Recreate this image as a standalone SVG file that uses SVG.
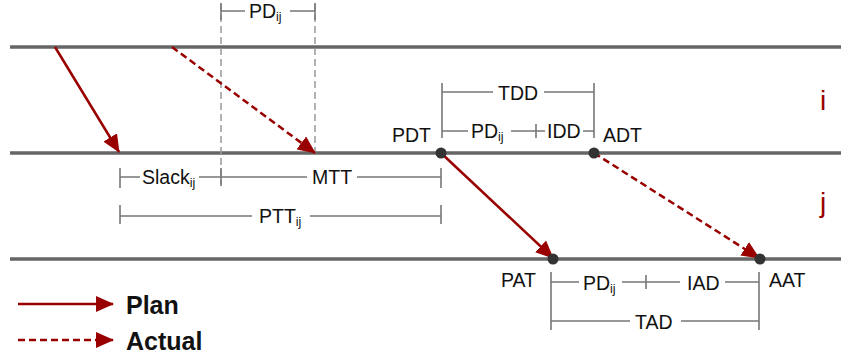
<svg xmlns="http://www.w3.org/2000/svg" width="841" height="360" viewBox="0 0 841 360">
  <style>
    .track { stroke: #666; stroke-width: 3.4; fill: none; }
    .guide { stroke: #999; stroke-width: 1.5; stroke-dasharray: 7 4; fill: none; }
    .dim { stroke: #777; stroke-width: 1.6; fill: none; }
    .plan { stroke: #990000; stroke-width: 2.5; fill: none; }
    .actual { stroke: #990000; stroke-width: 2.5; stroke-dasharray: 7 4; fill: none; }
    .lbl { font-family: "Liberation Sans", Arial, sans-serif; font-size: 19.5px; fill: #111; }
    .sub { font-size: 12.5px; }
    .stn { font-family: "Liberation Sans", Arial, sans-serif; font-size: 28px; fill: #990000; }
    .leg { font-family: "Liberation Sans", Arial, sans-serif; font-size: 25px; font-weight: bold; fill: #111; }
    .dot { fill: #333; }
  </style>
  <defs>
    <marker id="head" markerUnits="userSpaceOnUse" viewBox="0 0 18 16" refX="17" refY="8" markerWidth="18" markerHeight="16" orient="auto">
      <path d="M0,0 L18,8 L0,16 z" fill="#990000"/>
    </marker>
  </defs>

  <!-- station tracks -->
  <g id="tracks">
    <line class="track" x1="10" y1="47" x2="841" y2="47"/>
    <line class="track" x1="10" y1="153" x2="841" y2="153"/>
    <line class="track" x1="10" y1="259" x2="841" y2="259"/>
  </g>

  <!-- station labels -->
  <g id="station-i"><text class="stn" x="820" y="110">i</text></g>
  <g id="station-j"><text class="stn" x="820" y="212">j</text></g>

  <!-- vertical guides -->
  <g id="guides">
    <line class="guide" x1="221" y1="4" x2="221" y2="184"/>
    <line class="guide" x1="315" y1="4" x2="315" y2="153"/>
  </g>

  <!-- connectors -->
  <g id="connectors">
    <line class="plan" x1="55" y1="47" x2="119" y2="152" marker-end="url(#head)"/>
    <line class="actual" x1="172" y1="47" x2="315" y2="153" marker-end="url(#head)"/>
    <line class="plan" x1="441" y1="153" x2="553" y2="258" marker-end="url(#head)"/>
    <line class="actual" x1="594" y1="153" x2="759" y2="258" marker-end="url(#head)"/>
  </g>

  <!-- event points -->
  <g id="PDT">
    <circle class="dot" cx="441" cy="153" r="5.5"/>
    <text class="lbl" x="392" y="142">PDT</text>
  </g>
  <g id="ADT">
    <circle class="dot" cx="594" cy="153" r="5.5"/>
    <text class="lbl" x="603" y="142">ADT</text>
  </g>
  <g id="PAT">
    <circle class="dot" cx="553" cy="259" r="5.5"/>
    <text class="lbl" x="501" y="287">PAT</text>
  </g>
  <g id="AAT">
    <circle class="dot" cx="760" cy="259" r="5.5"/>
    <text class="lbl" x="769" y="287">AAT</text>
  </g>

  <!-- dimension: PD_ij (top) -->
  <g id="dim-PD-top">
    <path class="dim" d="M221,3 V20 M221,11 H245 M290,11 H315 M315,3 V20"/>
    <text class="lbl" x="249" y="18">PD<tspan class="sub" dy="3">ij</tspan></text>
  </g>

  <!-- dimension: Slack_ij / MTT -->
  <g id="dim-Slack-MTT">
    <path class="dim" d="M120,168 V188 M120,177 H140 M199,177 H221 M221,168 V186 M221,177 H307 M357,177 H441 M441,168 V188"/>
    <text class="lbl" x="142" y="184">Slack<tspan class="sub" dy="3">ij</tspan></text>
    <text class="lbl" x="312" y="184">MTT</text>
  </g>

  <!-- dimension: PTT_ij -->
  <g id="dim-PTT">
    <path class="dim" d="M120,205 V224 M120,216 H252 M310,216 H441 M441,205 V224"/>
    <text class="lbl" x="259" y="223">PTT<tspan class="sub" dy="3">ij</tspan></text>
  </g>

  <!-- dimension: TDD = PD_ij + IDD -->
  <g id="dim-TDD">
    <path class="dim" d="M442,83 V138 M442,92 H493 M544,92 H594 M594,83 V138"/>
    <text class="lbl" x="498" y="100">TDD</text>
    <path class="dim" d="M442,131 H468 M511,131 H545 M536,124 V138 M583,131 H594"/>
    <text class="lbl" x="471" y="138">PD<tspan class="sub" dy="3">ij</tspan></text>
    <text class="lbl" x="547" y="138">IDD</text>
  </g>

  <!-- dimension: TAD = PD_ij + IAD -->
  <g id="dim-TAD">
    <path class="dim" d="M551,272 V330 M551,282 H579 M622,282 H680 M646,275 V289 M725,282 H759 M759,272 V330"/>
    <text class="lbl" x="583" y="290">PD<tspan class="sub" dy="3">ij</tspan></text>
    <text class="lbl" x="687" y="290">IAD</text>
    <path class="dim" d="M551,321 H630 M681,321 H759"/>
    <text class="lbl" x="635" y="329">TAD</text>
  </g>

  <!-- legend -->
  <g id="legend">
    <line class="plan" x1="18" y1="304" x2="113" y2="304" marker-end="url(#head)"/>
    <text class="leg" x="126" y="314">Plan</text>
    <line class="actual" x1="18" y1="340" x2="113" y2="340" marker-end="url(#head)"/>
    <text class="leg" x="126" y="350">Actual</text>
  </g>
</svg>
